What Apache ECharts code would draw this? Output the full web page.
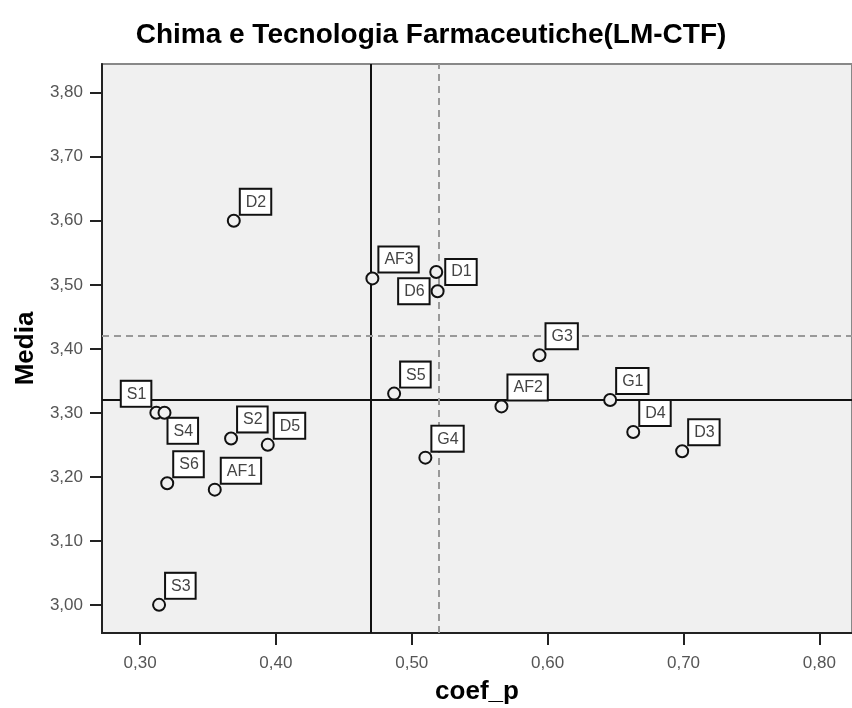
<!DOCTYPE html>
<html>
<head>
<meta charset="utf-8">
<script src="https://cdn.jsdelivr.net/npm/echarts@6/dist/echarts.min.js"></script>
<style>
  html, body { margin: 0; padding: 0; background: #fff; }
  #chart { width: 852px; height: 708px; }
</style>
</head>
<body>
<div id="chart"></div>
<script>
// data
const names = ["D2", "AF3", "D1", "D6", "G3", "S5", "AF2", "G4", "S1", "S4", "S2", "D5", "S6", "AF1", "S3", "G1", "D4", "D3"];
const coefP = [0.369, 0.471, 0.518, 0.519, 0.594, 0.487, 0.566, 0.510, 0.312, 0.318, 0.367, 0.394, 0.320, 0.355, 0.314, 0.646, 0.663, 0.699];
const media = [3.60, 3.51, 3.52, 3.49, 3.39, 3.33, 3.31, 3.23, 3.30, 3.30, 3.26, 3.25, 3.19, 3.18, 3.00, 3.32, 3.27, 3.24];

const xTicks = [0.30, 0.40, 0.50, 0.60, 0.70, 0.80];
const yTicks = [3.00, 3.10, 3.20, 3.30, 3.40, 3.50, 3.60, 3.70, 3.80];

// reference lines
const xSolid = 0.47, xDashed = 0.52;
const ySolid = 3.32, yDashed = 3.42;

// label placement exceptions (default: upper right)
const labelPlace = {
    S1: { position: [1, -24], align: "right" },
    D6: { position: "left", distance: 2 },
    D1: { position: "right", distance: 3 },
    S4: { position: [11, 13] }
};

const fmt = v => v.toFixed(2).replace(".", ",");

const chart = echarts.init(document.getElementById("chart"));

const points = names.map((n, i) => {
    const item = { name: n, value: [coefP[i], media[i]] };
    if (labelPlace[n]) item.label = labelPlace[n];
    return item;
});

chart.setOption({
    backgroundColor: "#fff",
    animation: false,
    title: {
        text: "Chima e Tecnologia Farmaceutiche(LM-CTF)",
        left: 426,
        textAlign: "center",
        top: 16,
        textStyle: { fontFamily: "Liberation Sans", fontSize: 28, fontWeight: "bold", color: "#000" }
    },
    grid: {
        left: 102, right: 0, top: 64, bottom: 75,
        outerBoundsMode: "none",
        containLabel: false,
        show: true,
        backgroundColor: "#f0f0f0",
        borderColor: "#888",
        borderWidth: 2
    },
    xAxis: {
        type: "value",
        min: 0.272, max: 0.824,
        name: "coef_p",
        nameLocation: "middle",
        nameGap: 46,
        nameTextStyle: { fontFamily: "Liberation Sans", fontSize: 26, fontWeight: "bold", color: "#000" },
        axisLine: { onZero: false, lineStyle: { color: "#222", width: 2 } },
        axisTick: { show: true, length: 12, lineStyle: { color: "#222", width: 2 }, customValues: xTicks },
        axisLabel: { margin: 22, color: "#555", fontFamily: "Liberation Sans", fontSize: 17, formatter: fmt, customValues: xTicks },
        splitLine: { show: false }
    },
    yAxis: {
        type: "value",
        min: 2.956, max: 3.845,
        name: "Media",
        nameLocation: "middle",
        nameGap: 63,
        nameRotate: 90,
        nameTextStyle: { fontFamily: "Liberation Sans", fontSize: 26, fontWeight: "bold", color: "#000" },
        axisLine: { onZero: false, lineStyle: { color: "#222", width: 2 } },
        axisTick: { show: true, length: 12, lineStyle: { color: "#222", width: 2 }, customValues: yTicks },
        axisLabel: { margin: 19, color: "#555", fontFamily: "Liberation Sans", fontSize: 17, formatter: fmt, customValues: yTicks },
        splitLine: { show: false }
    },
    series: [
        {
            type: "scatter",
            data: [],
            z: 1,
            markLine: {
                silent: true,
                symbol: "none",
                z: 1,
                label: { show: false },
                data: [
                    { xAxis: xSolid, lineStyle: { color: "#111", width: 2, type: "solid" } },
                    { yAxis: ySolid, lineStyle: { color: "#111", width: 2, type: "solid" } },
                    { xAxis: xDashed, lineStyle: { color: "#999", width: 2, type: [7, 5] } },
                    { yAxis: yDashed, lineStyle: { color: "#999", width: 2, type: [7, 5] } }
                ]
            }
        },
        {
            type: "scatter",
            z: 3,
            symbol: "circle",
            symbolSize: 12,
            itemStyle: { color: "#f0f0f0", borderColor: "#111", borderWidth: 2, opacity: 1 },
            label: {
                show: true,
                formatter: p => p.name,
                position: [14, -24],
                color: "#444",
                fontFamily: "Liberation Sans",
                fontSize: 16,
                lineHeight: 17,
                backgroundColor: "#fff",
                borderColor: "#111",
                borderWidth: 2,
                padding: [4, 4, 3, 5]
            },
            labelLayout: { hideOverlap: false },
            data: points
        }
    ]
});
</script>
</body>
</html>
